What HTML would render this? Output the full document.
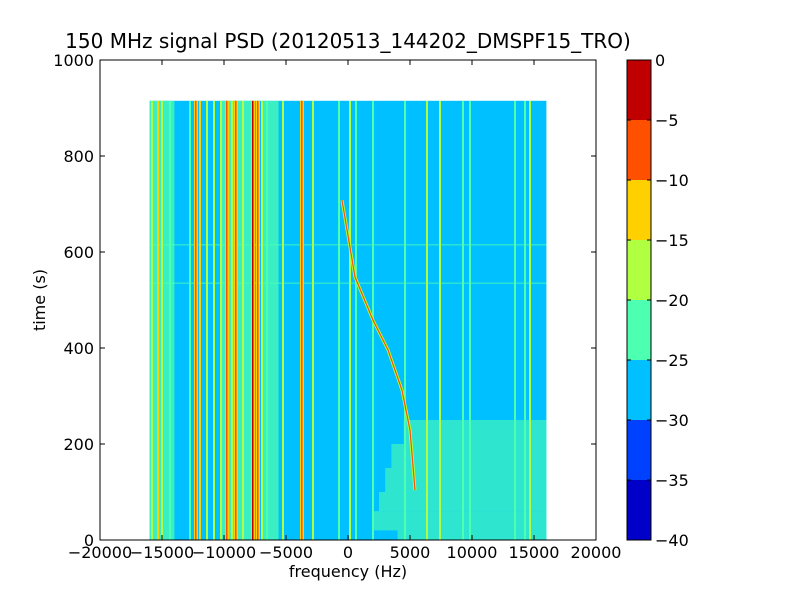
<!DOCTYPE html>
<html><head><meta charset="utf-8"><style>
body{margin:0;background:#fff}
svg text{font-family:"DejaVu Sans","Liberation Sans",sans-serif}
</style></head><body>
<svg id="c" width="800" height="600">
<rect width="800" height="600" fill="#fff"/>
<text x="348" y="48" font-size="20" text-anchor="middle">150 MHz signal PSD (20120513_144202_DMSPF15_TRO)</text>
<g id="plot"></g>
<rect x="100" y="60" width="496" height="480" fill="none" stroke="#000"/>
<g id="axes"></g>
<text x="348" y="577" font-size="16" text-anchor="middle">frequency (Hz)</text>
<text transform="translate(45,300) rotate(-90)" font-size="16" text-anchor="middle">time (s)</text>
<g id="cbar"></g>
</svg>
<script>
const xTicks=[-20000,-15000,-10000,-5000,0,5000,10000,15000,20000];
const yTicks=[0,200,400,600,800,1000];
const cbLevels=[-40,-35,-30,-25,-20,-15,-10,-5,0];
const cbColors=["#0000c8","#0040ff","#00c0ff","#4dffb0","#b0ff40","#ffd000","#ff5000","#c00000"];
const dataFreqRange=[-16000,16000];
const dataTimeMax=915;
const backgroundLevel=-27;
const bandFreqStart=[-16000,-10200,-7000];
const bandFreqEnd=[-14000,-7800,-5600];
const bandLevel=[-23,-23,-24];
const lineFreq=[-15806,-15323,-15000,-14355,-12742,-12258,-11935,-11371,-10806,-10242,-9758,-9355,-9032,-8468,-7661,-7258,-6935,-6532,-5242,-3710,-2823,-726,161,645,2016,4597,6371,7419,9274,9839,13468,14274,14677];
const lineLevel=[-17,-12,-17,-22,-22,-8,-15,-17,-16,-17,-6,-16,-10,-17,-3,-10,-16,-22,-17,-8,-16,-22,-18,-22,-22,-22,-17,-16,-22,-22,-22,-22,-18];
const chirpTime=[708,548,458,396,312,229,104];
const chirpFreq=[-484,565,2016,3226,4355,5000,5403];
const noiseTimeStart=[0,20,60,100,150,200];
const noiseTimeEnd=[20,60,100,150,200,250];
const noiseFreqStart=[4000,2000,2500,3000,3500,4500];
const noiseLevel=[-23,-21,-21,-22,-23,-24];
const hLineTime=[615,535];

const X=f=>100+(f+20000)/40000*496;
const Y=t=>540-t/1000*480;
const col=v=>{let i=Math.floor((v+40)/5);i=Math.max(0,Math.min(7,i));return cbColors[i];};
const NS="http://www.w3.org/2000/svg";
function mk(p,tag,a){const e=document.createElementNS(NS,tag);for(const k in a)e.setAttribute(k,a[k]);p.appendChild(e);return e;}
const plot=document.getElementById('plot'),axes=document.getElementById('axes'),cb=document.getElementById('cbar');
const x0=X(dataFreqRange[0]),x1=X(dataFreqRange[1]),yT=Y(dataTimeMax);
let bg=mk(plot,'rect',{x:x0,y:yT,width:x1-x0,height:540-yT,fill:col(backgroundLevel)});


noiseTimeStart.forEach((t,i)=>{
 let r=mk(plot,'rect',{x:X(noiseFreqStart[i]),y:Y(noiseTimeEnd[i]),width:x1-X(noiseFreqStart[i]),height:Y(t)-Y(noiseTimeEnd[i]),fill:col(noiseLevel[i]),opacity:0.6});
 
 
});
bandFreqStart.forEach((f,i)=>{
 let r=mk(plot,'rect',{x:X(f),y:yT,width:X(bandFreqEnd[i])-X(f),height:540-yT,fill:col(bandLevel[i]),opacity:0.75});
 
 
});
hLineTime.forEach(t=>{
 let r=mk(plot,'rect',{x:x0,y:Y(t)-0.7,width:x1-x0,height:1.4,fill:col(-22),opacity:0.6});
 
 
});
lineFreq.forEach((f,i)=>{
 const v=lineLevel[i];
 if(v>-12){let h=mk(plot,'rect',{x:X(f)-2,y:yT,width:4,height:540-yT,fill:col(-13)});
  
  }
 let r=mk(plot,'rect',{x:X(f)-1,y:yT,width:v>-12?1.5:2,height:540-yT,fill:col(v)});
 
 
});
let d=chirpTime.map((t,i)=>(i?'L':'M')+X(chirpFreq[i]).toFixed(1)+','+Y(t).toFixed(1)).join(' ');
let ch=mk(plot,'path',{d:d,fill:'none',stroke:col(-17),'stroke-width':3,'stroke-linejoin':'round'});


let ch2=mk(plot,'path',{d:d,fill:'none',stroke:col(-9),'stroke-width':1.2,'stroke-linejoin':'round'});



xTicks.forEach(v=>{
 const x=X(v);
 mk(axes,'line',{x1:x,x2:x,y1:540,y2:535,stroke:'#000'});
 mk(axes,'line',{x1:x,x2:x,y1:60,y2:65,stroke:'#000'});
 let t=mk(axes,'text',{x:x,y:558,'font-size':16,'text-anchor':'middle'});t.textContent=(v<0?'\u2212'+(-v):v);
 
 
});
yTicks.forEach(v=>{
 const y=Y(v);
 mk(axes,'line',{x1:100,x2:105,y1:y,y2:y,stroke:'#000'});
 mk(axes,'line',{x1:596,x2:591,y1:y,y2:y,stroke:'#000'});
 let t=mk(axes,'text',{x:94,y:y+6,'font-size':16,'text-anchor':'end'});t.textContent=v;
 
 
});
const cbY=v=>540-(v+40)/40*480;
cbColors.forEach((c,i)=>{
 let r=mk(cb,'rect',{x:627,y:cbY(cbLevels[i+1]),width:24,height:cbY(cbLevels[i])-cbY(cbLevels[i+1]),fill:c});
 
 
});
mk(cb,'rect',{x:627,y:60,width:24,height:480,fill:'none',stroke:'#000'});
cbLevels.forEach(v=>{
 const y=cbY(v);
 mk(cb,'line',{x1:627,x2:631,y1:y,y2:y,stroke:'#000'});
 mk(cb,'line',{x1:651,x2:647,y1:y,y2:y,stroke:'#000'});
 let t=mk(cb,'text',{x:655,y:y+6,'font-size':16});t.textContent=(v<0?'\u2212'+(-v):v);
 
 
});
</script>
</body></html>
